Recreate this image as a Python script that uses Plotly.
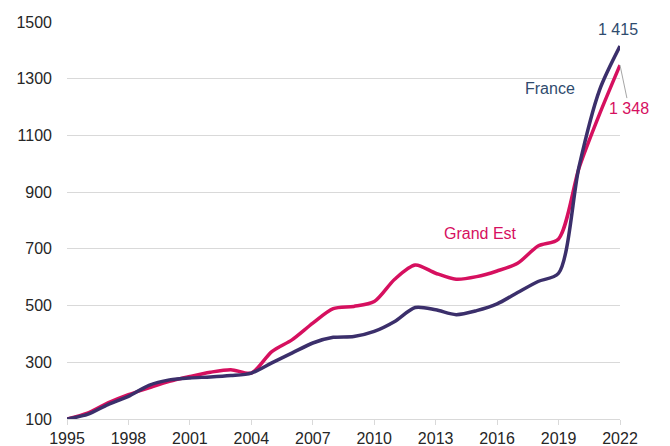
import plotly.graph_objects as go

years = list(range(1995, 2023))
france = [100, 116, 151, 180, 219, 238, 245, 248, 253, 262, 298, 333, 368, 388,
          391, 409, 444, 493, 485, 468, 482, 506, 546, 585, 614, 990, 1260, 1415]
grand_est = [100, 121, 157, 186, 210, 233, 250, 265, 274, 262, 338, 380, 438, 489,
             497, 514, 593, 643, 614, 593, 602, 622, 649, 710, 735, 985, 1175, 1348]
x_ticks = list(range(1995, 2023, 3))
y_ticks = list(range(100, 1501, 200))

FR_LINE = "#3B2F6B"
FR_TEXT = "#2F4B6E"
GE_COL = "#D6105F"
GRID = "#D9D9D9"
FONT = "Liberation Sans, Arial, sans-serif"

fig = go.Figure()
fig.add_trace(go.Scatter(x=years, y=grand_est, mode="lines", name="Grand Est",
                         line=dict(color=GE_COL, width=3.5, shape="spline", smoothing=0.8)))
fig.add_trace(go.Scatter(x=years, y=france, mode="lines", name="France",
                         line=dict(color=FR_LINE, width=3.5, shape="spline", smoothing=0.8)))

fig.add_annotation(x=years[-1], y=france[-1], text="1 415", showarrow=False,
                   xshift=-2, yshift=17, font=dict(color=FR_TEXT, size=16, family=FONT))
fig.add_annotation(x=years[-1], y=grand_est[-1], text="1 348", showarrow=True,
                   ax=9, ay=43, arrowhead=0, arrowwidth=1, arrowcolor="#A6A6A6",
                   font=dict(color=GE_COL, size=16, family=FONT))
fig.add_annotation(x=2018.58, y=1266, text="France", showarrow=False,
                   font=dict(color=FR_TEXT, size=16, family=FONT))
fig.add_annotation(x=2015.21, y=755, text="Grand Est", showarrow=False,
                   font=dict(color=GE_COL, size=16, family=FONT))

# the page body adds an 8px offset; the figure is sized to fit the 670x446 window
fig.update_layout(
    width=662, height=438,
    margin=dict(l=59, r=50, t=14, b=27, autoexpand=False),
    paper_bgcolor="white", plot_bgcolor="white",
    showlegend=False,
    font=dict(family=FONT, size=16, color="#262626"),
    xaxis=dict(range=[1995, 2022], tickvals=x_ticks, ticktext=[str(v) for v in x_ticks],
               showgrid=False, zeroline=False, showline=True, linecolor=GRID, linewidth=1,
               ticks="outside", ticklen=5, tickcolor=GRID, automargin=False,
               tickfont=dict(size=16, color="#262626")),
    yaxis=dict(range=[100, 1500], tickvals=y_ticks, ticktext=[str(v) for v in y_ticks],
               showgrid=True, gridcolor=GRID, gridwidth=1, zeroline=False, showline=False,
               ticks="", ticklabelstandoff=14, automargin=False,
               tickfont=dict(size=16, color="#262626")),
)

fig.write_html("out.html")
